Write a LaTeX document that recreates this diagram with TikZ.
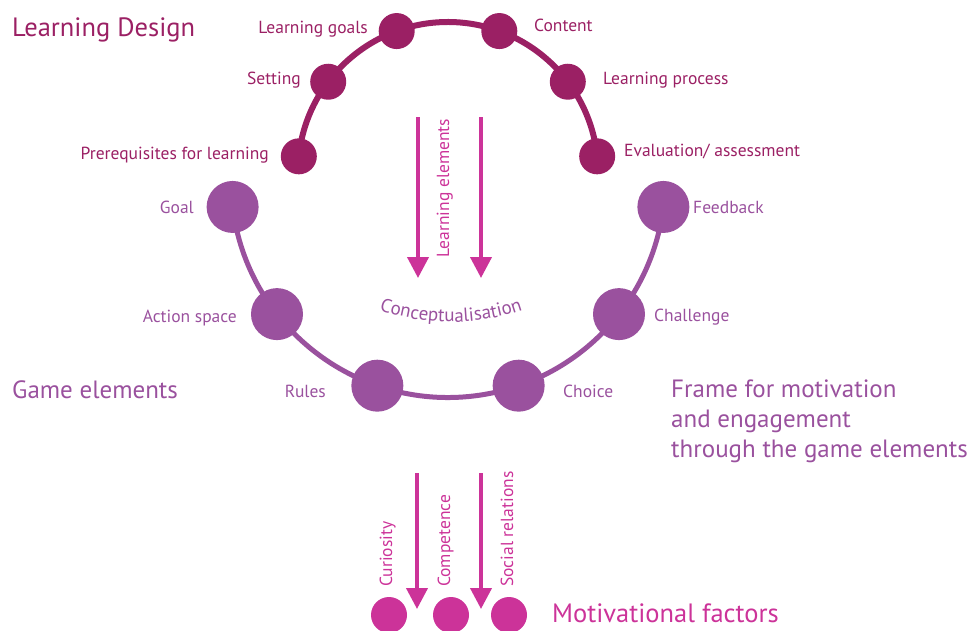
\documentclass[tikz,border=0pt]{standalone}
\usepackage{fontspec}
\setmainfont{PT Sans}
\usetikzlibrary{arrows.meta,decorations.text}
\definecolor{ldc}{HTML}{9B2064}
\definecolor{gec}{HTML}{9A519E}
\definecolor{mfc}{HTML}{CC3399}
\begin{document}
\begin{tikzpicture}[x=1pt,y=-1pt,
  ldot/.style={circle,fill=ldc,minimum size=36pt,inner sep=0pt},
  gdot/.style={circle,fill=gec,minimum size=52pt,inner sep=0pt},
  mdot/.style={circle,fill=mfc,minimum size=36pt,inner sep=0pt},
  lline/.style={draw=ldc,line width=6pt},
  gline/.style={draw=gec,line width=5pt},
  marrow/.style={draw=mfc,line width=4pt,-{Triangle[width=21pt,length=21pt]}},
  small/.style={font=\fontsize{17.5}{20}\selectfont,inner sep=0pt,text height=1.5ex,text depth=.25ex},
  llab/.style={small,text=ldc},
  glab/.style={small,text=gec},
  mlab/.style={small,text=mfc,rotate=90},
  big/.style={font=\fontsize{25}{30}\selectfont,inner sep=0pt}
]
\useasboundingbox (0,0) rectangle (970,630);
\begin{scope}
\clip (0,0) rectangle (970,630);
% learning design arc
\draw[lline] ([shift={(186:150)}]448,172) arc[start angle=186,end angle=354,radius=150];
\node[ldot] (pre) at ([shift={(186:150)}]448,172) {};
\node[ldot] (set) at ([shift={(217:150)}]448,172) {};
\node[ldot] (lgo) at ([shift={(250:150)}]448,172) {};
\node[ldot] (con) at ([shift={(290:150)}]448,172) {};
\node[ldot] (lpr) at ([shift={(323:150)}]448,172) {};
\node[ldot] (eva) at ([shift={(354:150)}]448,172) {};
\node[llab,anchor=east] (tpre) at (269,156) {Prerequisites for learning};
\node[llab,anchor=east] (tset) at (301,81) {Setting};
\node[llab,anchor=east] (tlgo) at (368,30) {Learning goals};
\node[llab,anchor=west] (tcon) at (534,28) {Content};
\node[llab,anchor=west] (tlpr) at (603,81) {Learning process};
\node[llab,anchor=west] (teva) at (624,153) {Evaluation/ assessment};
\node[big,text=ldc,anchor=base west,font=\fontsize{26.5}{30}\selectfont] (tld) at (12,36) {Learning Design};
% game elements arc
\draw[gline] ([shift={(173:217)}]448,180.5) arc[start angle=173,end angle=7,radius=217];
\node[gdot] (goa) at ([shift={(173:217)}]448,180.5) {};
\node[gdot] (act) at ([shift={(142:217)}]448,180.5) {};
\node[gdot] (rul) at ([shift={(109:217)}]448,180.5) {};
\node[gdot] (cho) at ([shift={(71:217)}]448,180.5) {};
\node[gdot] (cha) at ([shift={(38:217)}]448,180.5) {};
\node[gdot] (fee) at ([shift={(7:217)}]448,180.5) {};
\node[glab,anchor=east] (tgoa) at (194,210) {Goal};
\node[glab,anchor=east] (tact) at (237,319) {Action space};
\node[glab,anchor=east] (trul) at (326,394) {Rules};
\node[glab,anchor=west] (tcho) at (563,394) {Choice};
\node[glab,anchor=west] (tcha) at (654,318) {Challenge};
\node[glab,anchor=west] (tfee) at (693,210) {Feedback};
\node[big,text=gec,anchor=west] (tge) at (12,390) {Game elements};
\node[big,text=gec,anchor=west,align=left] (tfr) at (671,421) {Frame for motivation\\and engagement\\through the game elements};
% conceptualisation
\path[decorate,decoration={text along path,text align=center,
  text={|\color{gec}\fontsize{19}{22}\selectfont|Conceptualisation}}]
  ([shift={(118:220)}]451,102) arc[start angle=118,end angle=62,radius=220];
% learning elements arrows
\coordinate (la1) at (418,117);
\coordinate (la2) at (418,278);
\coordinate (lb1) at (481,117);
\coordinate (lb2) at (481,278);
\draw[marrow] (la1) -- (la2);
\draw[marrow] (lb1) -- (lb2);
\node[small,text=mfc,rotate=90] (tle) at (446,188) {Learning elements};
% motivational factors
\coordinate (ma1) at (417,473);
\coordinate (ma2) at (417,609);
\coordinate (mb1) at (481,473);
\coordinate (mb2) at (481,609);
\draw[marrow] (ma1) -- (ma2);
\draw[marrow] (mb1) -- (mb2);
\node[mlab,anchor=west] (tcu) at (389,587) {Curiosity};
\node[mlab,anchor=west] (tco) at (447,587) {Competence};
\node[mlab,anchor=west] (tso) at (510,587) {Social relations};
\node[mdot] (m1) at (389,615) {};
\node[mdot] (m2) at (451,615) {};
\node[mdot] (m3) at (509,615) {};
\node[big,text=mfc,anchor=west,font=\fontsize{26.5}{30}\selectfont] (tmf) at (552,613) {Motivational factors};
\end{scope}
\end{tikzpicture}
\end{document}
